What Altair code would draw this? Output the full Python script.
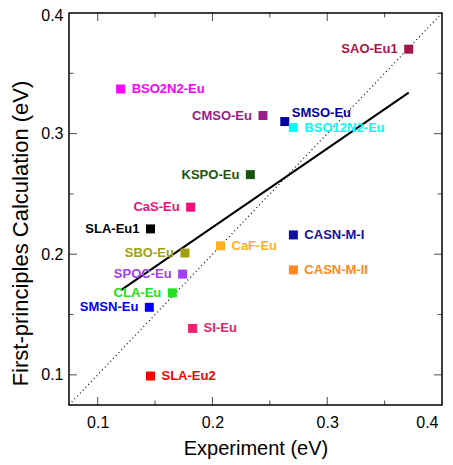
import altair as alt
import pandas as pd

names = ["SAO-Eu1", "BSO2N2-Eu", "CMSO-Eu", "SMSO-Eu", "BSO12N2-Eu", "KSPO-Eu",
         "CaS-Eu", "SLA-Eu1", "SBO-Eu", "CaF-Eu", "SPOC-Eu", "CLA-Eu", "SMSN-Eu",
         "SI-Eu", "SLA-Eu2", "CASN-M-I", "CASN-M-II"]
experiment = [0.371, 0.120, 0.244, 0.263, 0.2705, 0.233, 0.181, 0.146, 0.176, 0.207,
              0.174, 0.165, 0.145, 0.1827, 0.146, 0.2705, 0.2705]
calculation = [0.370, 0.337, 0.315, 0.310, 0.305, 0.266, 0.239, 0.221, 0.201, 0.207,
               0.1835, 0.168, 0.156, 0.1385, 0.099, 0.216, 0.187]
colors = ["#A3174C", "#FF00FF", "#9C1A8C", "#0000A0", "#00FFFF", "#1A5410",
          "#F0107A", "#000000", "#A0A010", "#FFB020", "#A040F0", "#20E020", "#0000FF",
          "#F0206F", "#FF0000", "#1010A0", "#FF8820"]
sides = ["left", "right", "left", "upright", "right", "left",
         "left", "left", "left", "right", "left", "left", "left",
         "right", "right", "right", "right"]

fit_x = [0.120, 0.371]
fit_y = [0.170, 0.334]
diag = [0.075, 0.4]

x_tick_vals = [0.1, 0.15, 0.2, 0.25, 0.3, 0.35]
y_tick_vals = [0.1, 0.15, 0.2, 0.25, 0.3, 0.35]
tick_kind = ["major", "minor", "major", "minor", "major", "minor"]
axis_labels = [0.1, 0.2, 0.3, 0.4]

FONT = "Liberation Sans"
W, H = 373, 392

df = pd.DataFrame({"name": names, "x": experiment, "y": calculation, "side": sides})
xs = alt.Scale(domain=[0.075, 0.4], nice=False, zero=False)
ys = alt.Scale(domain=[0.075, 0.4], nice=False, zero=False)
cs = alt.Scale(domain=names, range=colors)

xaxis = alt.Axis(values=axis_labels, format=".1f", ticks=False, domain=False, grid=False,
                 labelFontSize=16, labelColor="black", labelPadding=9, labelFont=FONT,
                 labelOffset=alt.ConditionalAxisNumber(
                     condition={"test": "datum.value >= 0.39", "value": -4}, value=0),
                 title="Experiment (eV)", titleFontSize=20, titleFontWeight="normal",
                 titleColor="black", titleFont=FONT, titlePadding=8)
yaxis = alt.Axis(values=axis_labels, format=".1f", ticks=False, domain=False, grid=False,
                 labelFontSize=16, labelColor="black", labelPadding=6, labelFont=FONT,
                 labelOffset=alt.ConditionalAxisNumber(
                     condition={"test": "datum.value >= 0.39", "value": 2}, value=0),
                 title="First-principles Calculation (eV)", titleFontSize=22,
                 titleFontWeight="normal", titleColor="black", titleFont=FONT,
                 titlePadding=8, titleY=220)

X = lambda f: alt.X(f, scale=xs, axis=xaxis)
Y = lambda f: alt.Y(f, scale=ys, axis=yaxis)

diag_df = pd.DataFrame({"x": diag, "y": diag})
diag_line = alt.Chart(diag_df).mark_line(color="black", strokeWidth=1.2,
                                         strokeDash=[1, 3]).encode(x=X("x:Q"), y=Y("y:Q"))

fit_df = pd.DataFrame({"x": fit_x, "y": fit_y})
fit_line = alt.Chart(fit_df).mark_line(color="black", strokeWidth=2).encode(
    x=X("x:Q"), y=Y("y:Q"))

points = alt.Chart(df).mark_square(size=81, opacity=1).encode(
    x=X("x:Q"), y=Y("y:Q"),
    color=alt.Color("name:N", scale=cs, legend=None),
)

def label_layer(side, align, dx, dy):
    return alt.Chart(df).transform_filter(alt.datum.side == side).mark_text(
        align=align, baseline="middle", dx=dx, dy=dy, font=FONT, fontSize=13,
        fontWeight="bold").encode(
        x=X("x:Q"), y=Y("y:Q"),
        text="name:N",
        color=alt.Color("name:N", scale=cs, legend=None),
    )

labels_r = label_layer("right", "left", 11, 0)
labels_l = label_layer("left", "right", -11, 0)
labels_u = label_layer("upright", "left", 7, -9)

xt = pd.DataFrame({"x": x_tick_vals, "kind": tick_kind})
yt = pd.DataFrame({"y": y_tick_vals, "kind": tick_kind})
size_scale = alt.Scale(domain=["major", "minor"], range=[16, 9])

def xticks(edge):
    return alt.Chart(xt).mark_tick(orient="vertical", clip=True, thickness=1,
                                   color="black").encode(
        x=X("x:Q"),
        y=alt.YDatum(edge, scale=ys, axis=yaxis),
        size=alt.Size("kind:N", scale=size_scale, legend=None),
    )

def yticks(edge):
    return alt.Chart(yt).mark_tick(orient="horizontal", clip=True, thickness=1,
                                   color="black").encode(
        y=Y("y:Q"),
        x=alt.XDatum(edge, scale=xs, axis=xaxis),
        size=alt.Size("kind:N", scale=size_scale, legend=None),
    )

chart = alt.layer(
    diag_line, fit_line, points, labels_r, labels_l, labels_u,
    xticks(0.075), xticks(0.4), yticks(0.075), yticks(0.4),
).properties(
    width=W, height=H,
    autosize=alt.AutoSizeParams(type="none"),
    padding={"left": 61, "top": 5, "right": 3, "bottom": 55},
).configure(
    font=FONT,
    view=alt.ViewConfig(stroke="black", strokeWidth=1.5),
)

chart.save("out.html", embed_options={"renderer": "svg", "actions": False})
